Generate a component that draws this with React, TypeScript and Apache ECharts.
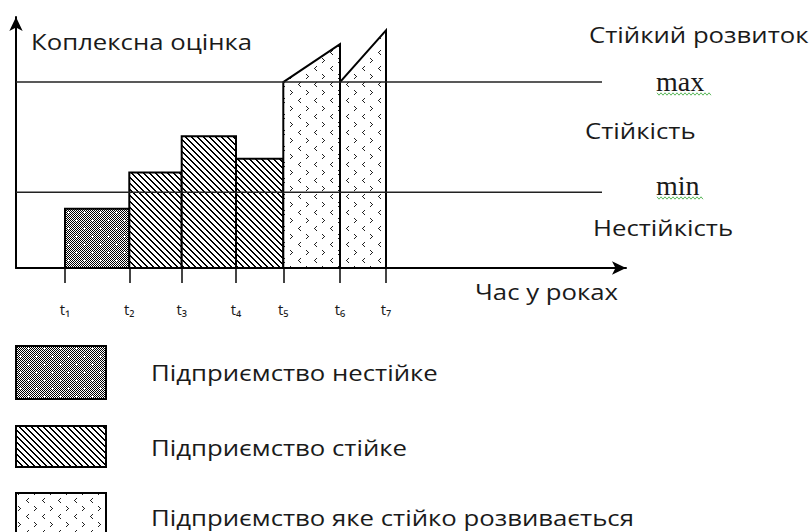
import React, { useEffect, useRef } from "react";
import * as echarts from "echarts";

// ---- data ----
const tickLabels = ["t₁", "t₂", "t₃", "t₄", "t₅", "t₆", "t₇"];
const tickPositions = [4.9, 11.33, 16.57, 22.0, 26.73, 32.4, 37.0];
const barStarts = [4.9, 11.33, 16.57, 22.0, 26.73, 32.4];
const barEnds = [11.33, 16.57, 22.0, 26.73, 32.4, 37.0];
const barLeftTops = [3.19, 5.13, 7.08, 5.88, 10.0, 10.0];
const barRightTops = [3.19, 5.13, 7.08, 5.88, 12.04, 12.78];
const barKinds = [0, 1, 1, 1, 2, 2];
const maxLevel = 10;
const minLevel = 4.07;
const levelLineEnd = 58.6;
const legendNames = [
  "Підприємство нестійке",
  "Підприємство стійке",
  "Підприємство яке стійко розвивається",
];
const zoneLabels = ["Стійкий розвиток", "Стійкість", "Нестійкість"];
const levelNames = ["max", "min"];
const yAxisTitle = "Коплексна оцінка";
const xAxisTitle = "Час у роках";

const FONT = "'Open Sans', 'Noto Sans', sans-serif";
const TEXT_COLOR = "#1a1a1a";

function makeCanvas(size: number) {
  const c = document.createElement("canvas");
  c.width = size;
  c.height = size;
  const ctx = c.getContext("2d")!;
  ctx.fillStyle = "#fff";
  ctx.fillRect(0, 0, size, size);
  return { c, ctx };
}

function unstablePattern() {
  const { c, ctx } = makeCanvas(16);
  ctx.fillStyle = "#000";
  for (let y = 0; y < 16; y++)
    for (let x = 0; x < 16; x++) if ((x + y) % 2 === 0) ctx.fillRect(x, y, 1, 1);
  ctx.fillStyle = "#fff";
  const plus = (x: number, y: number) => {
    ctx.fillRect(x - 1, y, 3, 1);
    ctx.fillRect(x, y - 1, 1, 3);
  };
  plus(4, 4);
  plus(12, 12);
  return c;
}

function stablePattern() {
  const { c, ctx } = makeCanvas(6);
  ctx.fillStyle = "#000";
  for (let i = 0; i < 6; i++) {
    ctx.fillRect(i, i, 1, 1);
    ctx.fillRect((i + 1) % 6, i, 1, 1);
  }
  return c;
}

function devPattern() {
  const { c, ctx } = makeCanvas(16);
  ctx.fillStyle = "#222";
  const lt = (x: number, y: number) => {
    ctx.fillRect(x + 2, y - 2, 1, 1);
    ctx.fillRect(x + 1, y - 1, 1, 1);
    ctx.fillRect(x, y, 1, 1);
    ctx.fillRect(x + 1, y + 1, 1, 1);
    ctx.fillRect(x + 2, y + 2, 1, 1);
  };
  const gt = (x: number, y: number) => {
    ctx.fillRect(x, y - 2, 1, 1);
    ctx.fillRect(x + 1, y - 1, 1, 1);
    ctx.fillRect(x + 2, y, 1, 1);
    ctx.fillRect(x + 1, y + 1, 1, 1);
    ctx.fillRect(x, y + 2, 1, 1);
  };
  lt(10, 4);
  gt(2, 12);
  return c;
}

function squiggle(x0: number, x1: number, y: number) {
  const pts: number[][] = [];
  let up = true;
  for (let x = x0; x <= x1; x += 2) {
    pts.push([x, up ? y - 1.2 : y + 1.2]);
    up = !up;
  }
  return {
    type: "polyline",
    shape: { points: pts },
    style: { stroke: "#5cb85c", lineWidth: 1, fill: null },
  };
}

export default function App() {
  const ref = useRef<HTMLDivElement>(null);
  useEffect(() => {
    if (!ref.current) return;
    const chart = echarts.init(ref.current, null, { renderer: "svg" });
    const pats = [
      { image: unstablePattern(), repeat: "repeat", imageWidth: 16, imageHeight: 16 },
      { image: stablePattern(), repeat: "repeat", imageWidth: 6, imageHeight: 6 },
      { image: devPattern(), repeat: "repeat", imageWidth: 16, imageHeight: 16 },
    ];
    const barData = barStarts.map((s, i) => [s, barEnds[i], barLeftTops[i], barRightTops[i], barKinds[i]]);

    const textEl = (text: string, x: number, y: number, extra: any = {}, scaleX = 1.17) => ({
      type: "text",
      x,
      y,
      scaleX,
      style: {
        text,
        fill: TEXT_COLOR,
        font: `22px ${FONT}`,
        verticalAlign: "middle",
        align: "left",
        ...extra,
      },
    });

    const legendBoxes = [
      [346, 53],
      [426, 41],
      [493, 50],
    ];
    const legendTextYs = [372, 447, 517];
    const serif = `28px 'Liberation Serif', 'Times New Roman', serif`;

    chart.setOption({
      animation: false,
      backgroundColor: "#fff",
      grid: { left: 16, top: 17, width: 610, height: 251, containLabel: false },
      xAxis: {
        type: "value",
        min: 0,
        max: 61,
        axisLine: {
          show: true,
          symbol: ["none", "arrow"],
          symbolSize: [10, 14],
          lineStyle: { color: "#000", width: 2 },
        },
        axisTick: {
          show: true,
          customValues: tickPositions,
          length: 15,
          inside: false,
          lineStyle: { color: "#444", width: 2 },
        },
        axisLabel: {
          show: true,
          customValues: tickPositions,
          margin: 33,
          fontSize: 15,
          color: TEXT_COLOR,
          fontFamily: FONT,
          formatter: (v: number) => {
            let best = 0;
            tickPositions.forEach((p, i) => {
              if (Math.abs(p - v) < Math.abs(tickPositions[best] - v)) best = i;
            });
            return tickLabels[best];
          },
        },
        splitLine: { show: false },
      },
      yAxis: {
        type: "value",
        min: 0,
        max: 13.5,
        axisLine: {
          show: true,
          symbol: ["none", "arrow"],
          symbolSize: [10, 14],
          lineStyle: { color: "#000", width: 2 },
        },
        axisTick: { show: false },
        axisLabel: { show: false },
        splitLine: { show: false },
      },
      series: [
        {
          type: "custom",
          name: "bars",
          data: barData,
          encode: { x: [0, 1], y: [2, 3] },
          z: 2,
          renderItem: (params: any, api: any) => {
            const x0 = api.value(0);
            const x1 = api.value(1);
            const lt = api.value(2);
            const rt = api.value(3);
            const kind = api.value(4);
            const pts = [
              api.coord([x0, 0]),
              api.coord([x0, lt]),
              api.coord([x1, rt]),
              api.coord([x1, 0]),
            ];
            return {
              type: "polygon",
              shape: { points: pts },
              style: { fill: pats[kind], stroke: "#000", lineWidth: 2 },
            };
          },
        },
        {
          type: "line",
          name: levelNames[0],
          data: [
            [0, maxLevel],
            [levelLineEnd, maxLevel],
          ],
          symbol: "none",
          lineStyle: { color: "#222", width: 1.5 },
          z: 5,
        },
        {
          type: "line",
          name: levelNames[1],
          data: [
            [0, minLevel],
            [levelLineEnd, minLevel],
          ],
          symbol: "none",
          lineStyle: { color: "#222", width: 1.5 },
          z: 5,
        },
      ],
      graphic: [
        textEl(yAxisTitle, 31, 41),
        textEl(zoneLabels[0], 589, 34),
        textEl(levelNames[0], 656, 81, { font: serif }, 1),
        squiggle(657, 711, 94),
        textEl(zoneLabels[1], 585, 130),
        textEl(levelNames[1], 656, 185, { font: serif }, 1),
        squiggle(657, 703, 198),
        textEl(zoneLabels[2], 593, 227),
        textEl(xAxisTitle, 475, 291),
        ...legendNames.flatMap((name, i) => [
          {
            type: "rect",
            shape: { x: 16, y: legendBoxes[i][0], width: 90, height: legendBoxes[i][1] },
            style: { fill: pats[i], stroke: "#000", lineWidth: 2 },
          },
          textEl(name, 151, legendTextYs[i]),
        ]),
      ],
    });
    return () => chart.dispose();
  }, []);
  return (
    <div
      ref={ref}
      style={{ position: "absolute", left: 0, top: 0, width: 812, height: 532 }}
    />
  );
}
